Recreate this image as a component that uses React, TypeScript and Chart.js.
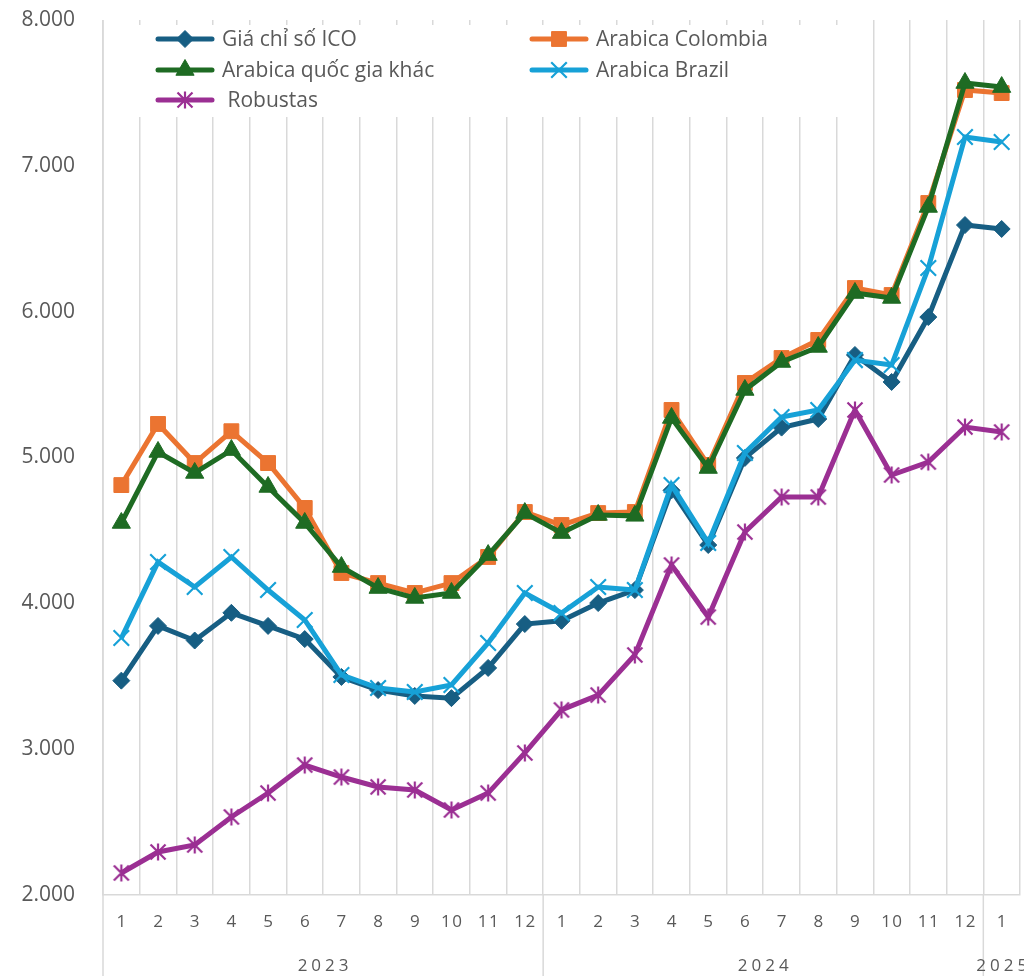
import React, { useEffect, useRef } from 'react';
import { Chart, registerables } from 'chart.js';
import { drawPoint } from 'chart.js/helpers';

Chart.register(...registerables);

// ---- data ----
const months = ['1', '2', '3', '4', '5', '6', '7', '8', '9', '10', '11', '12', '1', '2', '3', '4', '5', '6', '7', '8', '9', '10', '11', '12', '1'];
const years = ['2023', '2024', '2025'];
const yearSpans = [12, 12, 1];

const icoComposite = [3470, 3845, 3745, 3935, 3845, 3755, 3495, 3405, 3365, 3350, 3557, 3858, 3880, 4002, 4091, 4775, 4400, 4997, 5205, 5264, 5703, 5518, 5963, 6594, 6567];
const arabicaColombia = [4811, 5230, 4962, 5180, 4962, 4654, 4208, 4139, 4071, 4139, 4318, 4626, 4537, 4619, 4626, 5326, 4949, 5511, 5682, 5806, 6162, 6114, 6745, 7520, 7499];
const arabicaOther = [4551, 5038, 4894, 5051, 4798, 4551, 4249, 4105, 4037, 4071, 4331, 4619, 4482, 4606, 4600, 5271, 4928, 5463, 5655, 5758, 6128, 6094, 6718, 7568, 7540];
const arabicaBrazil = [3762, 4283, 4112, 4318, 4091, 3886, 3509, 3419, 3392, 3440, 3728, 4071, 3934, 4112, 4091, 4811, 4414, 5031, 5278, 5326, 5668, 5634, 6299, 7198, 7163];
const robustas = [2151, 2295, 2343, 2535, 2699, 2891, 2809, 2741, 2720, 2583, 2699, 2974, 3269, 3371, 3646, 4263, 3906, 4489, 4729, 4729, 5326, 4880, 4969, 5209, 5175];

const seriesNames = ['Giá chỉ số ICO', 'Arabica Colombia', 'Arabica quốc gia khác', 'Arabica Brazil', ' Robustas'];
const yMin = 2000;
const yMax = 8000;
const yStep = 1000;

// ---- style ----
const COLORS = ['#175E83', '#EB7431', '#1E6B23', '#17A1D7', '#9B2F93'];
const GRID = '#D9D9D9';
const TEXT = '#595959';
const FONT = '"Open Sans", "Noto Sans", sans-serif';
const AREA = { left: 103, top: 20, right: 1020, bottom: 895 };

function makeAsterisk(color: string) {
  const c = document.createElement('canvas');
  c.width = 20;
  c.height = 20;
  const g = c.getContext('2d')!;
  g.strokeStyle = color;
  g.lineWidth = 2.2;
  g.lineCap = 'butt';
  g.beginPath();
  g.moveTo(10, 1.5);
  g.lineTo(10, 18.5);
  g.moveTo(2.5, 2.5);
  g.lineTo(17.5, 17.5);
  g.moveTo(17.5, 2.5);
  g.lineTo(2.5, 17.5);
  g.stroke();
  return c;
}

export default function App() {
  const ref = useRef<HTMLCanvasElement | null>(null);

  useEffect(() => {
    if (!ref.current) return;
    const star = makeAsterisk(COLORS[4]);

    const styles: any[] = [
      { pointStyle: 'rectRot', radius: 8.5, borderWidth: 1 },
      { pointStyle: 'rect', radius: 10.5, borderWidth: 1 },
      { pointStyle: 'triangle', radius: 10.5, borderWidth: 1 },
      { pointStyle: 'crossRot', radius: 11, borderWidth: 2.2 },
      { pointStyle: star, radius: 10, borderWidth: 2 },
    ];
    const values = [icoComposite, arabicaColombia, arabicaOther, arabicaBrazil, robustas];

    const datasets = values.map((d, i) => ({
      label: seriesNames[i],
      data: d,
      borderColor: COLORS[i],
      backgroundColor: COLORS[i],
      pointBackgroundColor: COLORS[i],
      pointBorderColor: COLORS[i],
      pointStyle: styles[i].pointStyle,
      pointRadius: styles[i].radius,
      pointBorderWidth: styles[i].borderWidth,
      borderWidth: 5,
      tension: 0,
      order: 5 - i,
    }));

    // pin the plot area to the reference geometry
    const pinArea = {
      id: 'pinArea',
      afterLayout(chart: any) {
        const a = chart.chartArea;
        a.left = AREA.left;
        a.top = AREA.top;
        a.right = AREA.right;
        a.bottom = AREA.bottom;
        a.width = AREA.right - AREA.left;
        a.height = AREA.bottom - AREA.top;
        const x = chart.scales.x;
        x.left = AREA.left;
        x.right = AREA.right;
        x.width = AREA.right - AREA.left;
        x.top = AREA.bottom;
        x.bottom = chart.height;
        x.height = chart.height - AREA.bottom;
        x.configure();
        const y = chart.scales.y;
        y.left = 0;
        y.right = AREA.left;
        y.width = AREA.left;
        y.top = AREA.top;
        y.bottom = AREA.bottom;
        y.height = AREA.bottom - AREA.top;
        y.configure();
      },
    };

    const overlay = {
      id: 'overlay',
      afterDraw(chart: any) {
        const { ctx, chartArea } = chart;
        const x = chart.scales.x;
        ctx.save();

        // legend box
        ctx.fillStyle = '#ffffff';
        ctx.fillRect(128, 25, 735, 92);
        const pos = [
          [158, 39], [532, 39], [158, 70], [532, 70], [158, 100],
        ];
        ctx.font = `21px ${FONT}`;
        ctx.textBaseline = 'middle';
        ctx.textAlign = 'left';
        pos.forEach(([lx, ly], i) => {
          ctx.strokeStyle = COLORS[i];
          ctx.lineWidth = 5;
          ctx.lineCap = 'round';
          ctx.beginPath();
          ctx.moveTo(lx, ly);
          ctx.lineTo(lx + 54, ly);
          ctx.stroke();
          ctx.fillStyle = COLORS[i];
          ctx.strokeStyle = COLORS[i];
          ctx.lineCap = 'butt';
          ctx.lineWidth = styles[i].borderWidth;
          drawPoint(ctx, { pointStyle: styles[i].pointStyle, radius: styles[i].radius, borderWidth: styles[i].borderWidth, rotation: 0 } as any, lx + 27, ly);
          ctx.fillStyle = TEXT;
          ctx.fillText(seriesNames[i], lx + 64, ly + 1);
        });

        // axis separators
        ctx.strokeStyle = GRID;
        ctx.lineWidth = 1.5;
        const half = (x.getPixelForValue(1) - x.getPixelForValue(0)) / 2;
        const bounds: number[] = [chartArea.left];
        let acc = 0;
        yearSpans.forEach((s) => {
          acc += s;
          bounds.push(x.getPixelForValue(acc - 1) + half);
        });
        bounds.forEach((bx, i) => {
          if (i === bounds.length - 1) return;
          ctx.beginPath();
          ctx.moveTo(bx, i === 0 ? chartArea.top : chartArea.bottom);
          ctx.lineTo(bx, chart.height);
          ctx.stroke();
        });

        // month labels
        ctx.fillStyle = TEXT;
        ctx.font = `17px ${FONT}`;
        ctx.textAlign = 'center';
        ctx.textBaseline = 'middle';
        (ctx as any).letterSpacing = '1.5px';
        months.forEach((m, i) => {
          ctx.fillText(m, x.getPixelForValue(i) + 0.75, 922);
        });

        // year labels
        (ctx as any).letterSpacing = '4px';
        years.forEach((yr, i) => {
          const cx = (bounds[i] + bounds[i + 1]) / 2;
          ctx.fillText(yr, cx + 2, 966);
        });
        (ctx as any).letterSpacing = '0px';
        ctx.restore();
      },
    };

    const chart = new Chart(ref.current, {
      type: 'line',
      data: { labels: months, datasets },
      options: {
        animation: false,
        responsive: false,
        layout: { padding: { top: 20, right: 4, left: 0, bottom: 0 } },
        plugins: { legend: { display: false }, tooltip: { enabled: false } },
        scales: {
          x: {
            offset: true,
            grid: {
              display: true,
              offset: true,
              color: (c: any) => (c.index >= months.length ? 'rgba(0,0,0,0)' : GRID),
              lineWidth: 1.5,
              drawTicks: false,
            },
            border: { display: true, color: GRID, width: 1.5 },
            ticks: { display: false },
            afterFit(scale: any) {
              scale.height = 81;
              scale.paddingLeft = 0;
              scale.paddingRight = 0;
            },
          },
          y: {
            min: yMin,
            max: yMax,
            grid: { display: false, drawTicks: false },
            border: { display: false },
            ticks: {
              stepSize: yStep,
              color: TEXT,
              padding: 28,
              font: { size: 21, family: FONT },
              callback: (v: any) => Number(v).toLocaleString('de-DE'),
            },
            afterFit(scale: any) {
              scale.width = 103;
              scale.paddingTop = 0;
              scale.paddingBottom = 0;
            },
          },
        },
      },
      plugins: [pinArea, overlay],
    });

    return () => chart.destroy();
  }, []);

  return (
    <div style={{ position: 'absolute', left: 0, top: 0, width: 1024, height: 976, background: '#fff' }}>
      <canvas ref={ref} width={1024} height={976} style={{ width: 1024, height: 976, display: 'block' }} />
    </div>
  );
}
